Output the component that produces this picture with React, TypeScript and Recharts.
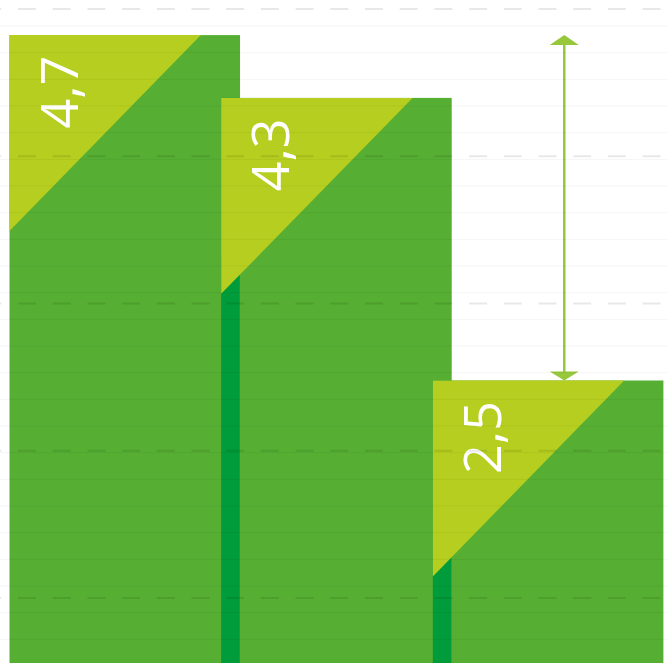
import React from 'react';
import { BarChart, Bar, XAxis, YAxis, CartesianGrid } from 'recharts';

// ---- data ----
const categories = ['A', 'B', 'C'];
const values = [4.7, 4.3, 2.5];
const valueLabels = ['4,7', '4,3', '2,5'];
// gap arrow on the last bar: reaches up to the highest value
const arrowTops = [null, null, 4.7];
// decorative grid ticks
const majorTicks = [0, 1, 2, 3, 4, 5];
const fineTicks = [
  0, 1, 2, 3, 4, 5, 6, 7, 8, 9, 10, 11, 12, 13, 14, 15, 16, 17, 18, 19,
  20, 21, 22, 23, 24, 25, 26, 27, 28, 29, 30, 31, 32, 33, 34, 35, 36, 37, 38, 39,
  40, 41, 42, 43, 44, 45, 46, 47, 48, 49, 50, 51, 52, 53, 54, 55, 56, 57, 58,
];

const data = categories.map((c, i) => ({
  name: c,
  value: values[i],
  label: valueLabels[i],
  arrowTop: arrowTops[i],
}));

const GREEN = '#56ae33';
const YELLOW = '#b6ce1f';
const DARK = '#009b3a';
const ARROW = '#97c73b';
const OVERHANG = 0.0875;

const BarShape = (props: any) => {
  const { x, y, width, height, index, payload } = props;
  const wide = width * (1 + OVERHANG);
  const overlap = width * OVERHANG;
  const triW = wide * 0.83;
  const triH = wide * 0.85;
  let arrow = null;
  if (payload.arrowTop != null) {
    const unit = height / payload.value;
    const yTop = y - (payload.arrowTop - payload.value) * unit;
    const cx = x + width * 0.62;
    const half = 14.5;
    arrow = (
      <g>
        <line x1={cx} y1={yTop + 6} x2={cx} y2={y - 6} stroke={ARROW} strokeWidth={2.5} />
        <polygon points={`${cx},${yTop} ${cx - half},${yTop + 10} ${cx + half},${yTop + 10}`} fill={ARROW} />
        <polygon points={`${cx},${y} ${cx - half},${y - 9} ${cx + half},${y - 9}`} fill={ARROW} />
      </g>
    );
  }
  return (
    <g>
      <rect x={x} y={y} width={wide} height={height} fill={GREEN} />
      {index > 0 && <rect x={x} y={y} width={overlap} height={height} fill={DARK} />}
      <polygon points={`${x},${y} ${x + triW},${y} ${x},${y + triH}`} fill={YELLOW} />
      <text
        x={0}
        y={0}
        transform={`translate(${x + 68},${y + 57}) rotate(-90)`}
        textAnchor="middle"
        fill="#ffffff"
        fontSize={52}
        fontFamily="'Open Sans', sans-serif"
        fontWeight={400}
      >
        {payload.label}
      </text>
      {arrow}
    </g>
  );
};

export default function App() {
  const pad = { left: 9.5, right: 22.5 };
  return (
    <div
      style={{
        position: 'fixed',
        left: 0,
        top: 0,
        width: 667,
        height: 663,
        overflow: 'hidden',
        background: '#ffffff',
      }}
    >
      <div style={{ position: 'absolute', left: 0, top: -12 }}>
        <BarChart
          width={667}
          height={785}
          data={data}
          margin={{ top: 0, right: 0, bottom: 0, left: 0 }}
          barCategoryGap={0}
          barGap={0}
        >
          <XAxis xAxisId="cat" dataKey="name" type="category" hide padding={pad} />
          <YAxis yAxisId="v" type="number" domain={[0, 5]} hide />
          <YAxis
            yAxisId="major"
            type="number"
            domain={[-0.1885, 5.1426]}
            ticks={majorTicks}
            hide
            allowDataOverflow
          />
          <YAxis
            yAxisId="fine"
            type="number"
            domain={[-0.025, 58.85]}
            ticks={fineTicks}
            hide
            allowDataOverflow
          />
          <Bar
            xAxisId="cat"
            yAxisId="v"
            dataKey="value"
            isAnimationActive={false}
            shape={BarShape}
          />
          <CartesianGrid
            xAxisId="cat"
            yAxisId="fine"
            vertical={false}
            stroke="#000000"
            strokeOpacity={0.045}
            strokeWidth={1}
            zIndex={500}
          />
          <CartesianGrid
            xAxisId="cat"
            yAxisId="major"
            vertical={false}
            stroke="#000000"
            strokeOpacity={0.09}
            strokeWidth={2}
            strokeDasharray="18 16.7"
            strokeDashoffset={16.7}
            zIndex={510}
          />
        </BarChart>
      </div>
    </div>
  );
}
